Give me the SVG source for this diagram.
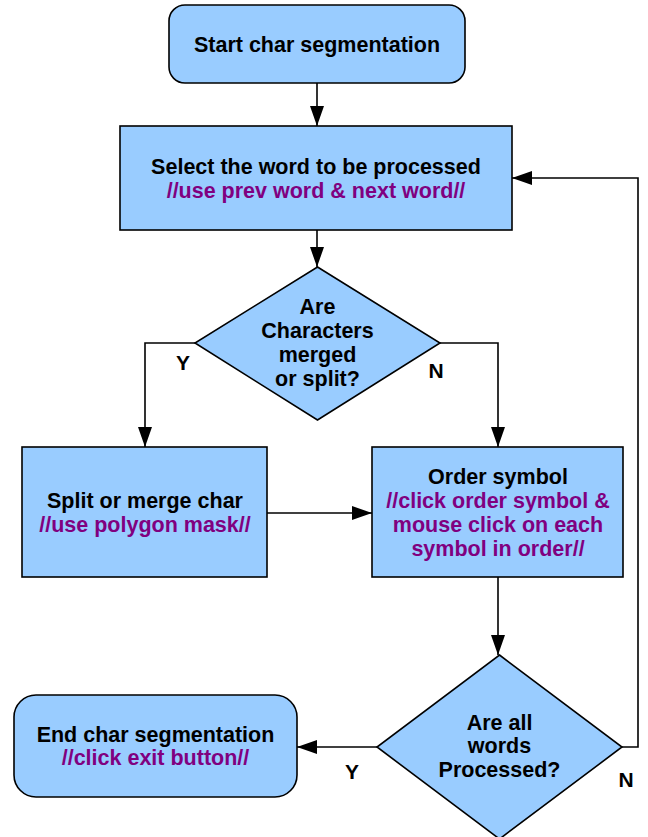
<svg xmlns="http://www.w3.org/2000/svg" width="648" height="837" viewBox="0 0 648 837">
<style>
.shape{fill:#99ccff;stroke:#000;stroke-width:1.6}
.t{font-family:"Liberation Sans",Arial,sans-serif;font-weight:bold;font-size:21.5px;text-anchor:middle;fill:#000}
.p{fill:#800080}
.lbl{font-family:"Liberation Sans",Arial,sans-serif;font-weight:bold;font-size:21px;text-anchor:middle;fill:#000}
.c{fill:none;stroke:#000;stroke-width:1.6}
</style>
<defs>
<marker id="arr" markerUnits="userSpaceOnUse" markerWidth="20" markerHeight="14" refX="20" refY="7" orient="auto">
<path d="M0,0 L20,7 L0,14 Z" fill="#000"/>
</marker>
</defs>
<rect width="648" height="837" fill="#fff"/>
<g id="connectors">
<path class="c" d="M317,83 L317,126" marker-end="url(#arr)"/>
<path class="c" d="M317,230 L317,267" marker-end="url(#arr)"/>
<path class="c" d="M195,343 L145,343 L145,447" marker-end="url(#arr)"/>
<path class="c" d="M440,343 L498,343 L498,447" marker-end="url(#arr)"/>
<path class="c" d="M267,513 L372,513" marker-end="url(#arr)"/>
<path class="c" d="M498,577 L498,655" marker-end="url(#arr)"/>
<path class="c" d="M377,747 L297,747" marker-end="url(#arr)"/>
<path class="c" d="M622,747 L638,747 L638,178 L512,178" marker-end="url(#arr)"/>
<text class="lbl" x="183" y="370">Y</text>
<text class="lbl" x="436" y="378">N</text>
<text class="lbl" x="352" y="779">Y</text>
<text class="lbl" x="626" y="787">N</text>
</g>
<g id="start">
<rect class="shape" x="169" y="5" width="296" height="78" rx="16"/>
<text class="t" x="317" y="52">Start char segmentation</text>
</g>
<g id="select">
<rect class="shape" x="120" y="126" width="392" height="104"/>
<text class="t" x="316" y="174">Select the word to be processed</text>
<text class="t p" x="316" y="198">//use prev word &amp; next word//</text>
</g>
<g id="decision1">
<polygon class="shape" points="317.5,267 440,343 317.5,420 195,343"/>
<text class="t" x="317.5" y="314">Are</text>
<text class="t" x="317.5" y="338">Characters</text>
<text class="t" x="317.5" y="362">merged</text>
<text class="t" x="317.5" y="386">or split?</text>
</g>
<g id="split">
<rect class="shape" x="22" y="447" width="245" height="130"/>
<text class="t" x="145" y="508">Split or merge char</text>
<text class="t p" x="145" y="532">//use polygon mask//</text>
</g>
<g id="order">
<rect class="shape" x="372" y="447" width="251" height="130"/>
<text class="t" x="498" y="484">Order symbol</text>
<text class="t p" x="498" y="508">//click order symbol &amp;</text>
<text class="t p" x="498" y="532">mouse click on each</text>
<text class="t p" x="498" y="556">symbol in order//</text>
</g>
<g id="decision2">
<polygon class="shape" points="499.5,655 622,747 499.5,839 377,747"/>
<text class="t" x="499.5" y="730">Are all</text>
<text class="t" x="499.5" y="753">words</text>
<text class="t" x="499.5" y="777">Processed?</text>
</g>
<g id="end">
<rect class="shape" x="14" y="695" width="283" height="102" rx="22"/>
<text class="t" x="155.5" y="742">End char segmentation</text>
<text class="t p" x="155.5" y="765">//click exit button//</text>
</g>
</svg>
